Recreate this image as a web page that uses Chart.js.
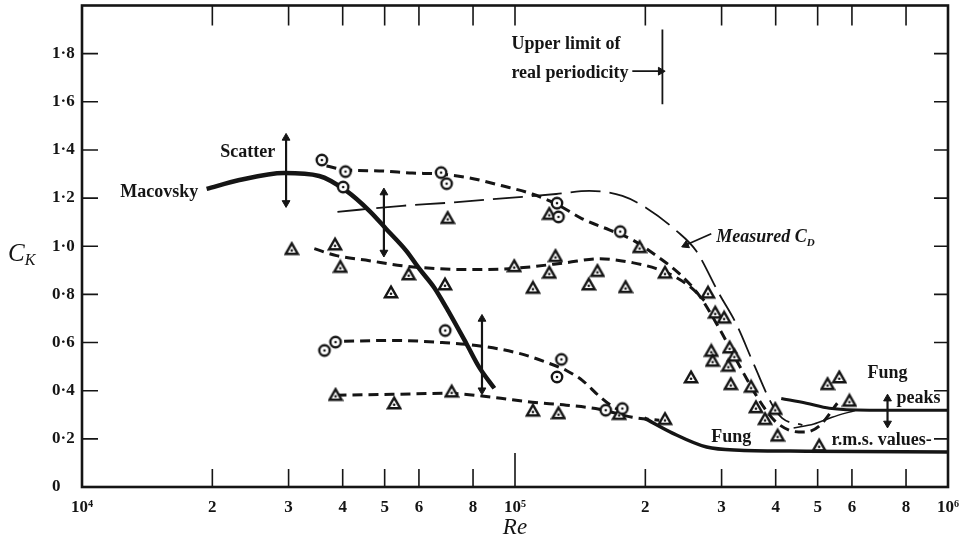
<!DOCTYPE html>
<html>
<head>
<meta charset="utf-8">
<script src="https://cdn.jsdelivr.net/npm/chart.js@4.4.0/dist/chart.umd.min.js"></script>
<style>
  html, body { margin: 0; padding: 0; background: #fff; }
</style>
</head>
<body>
<canvas id="chart" width="966" height="546"></canvas>
<script>
// axis ticks
const reTicks = [1e4, 2e4, 3e4, 4e4, 5e4, 6e4, 8e4, 1e5, 2e5, 3e5, 4e5, 5e5, 6e5, 8e5, 1e6];
const reTickLabels = ['10\u2074', '2', '3', '4', '5', '6', '8', '10\u2075', '2', '3', '4', '5', '6', '8', '10\u2076'];
const ckTicks = [0, 0.2, 0.4, 0.6, 0.8, 1.0, 1.2, 1.4, 1.6, 1.8];
const ckTickLabels = ['0', '0\u00b72', '0\u00b74', '0\u00b76', '0\u00b78', '1\u00b70', '1\u00b72', '1\u00b74', '1\u00b76', '1\u00b78'];

// measured points, circles
const circleRe = [3.58e4, 4.06e4, 4.01e4, 6.75e4, 6.95e4, 1.25e5, 1.26e5, 1.75e5,
                  3.63e4, 3.85e4, 6.9e4, 1.28e5, 1.25e5, 1.62e5, 1.77e5];
const circleCk = [1.358, 1.31, 1.246, 1.306, 1.26, 1.179, 1.122, 1.061,
                  0.567, 0.602, 0.65, 0.53, 0.457, 0.319, 0.326];

// measured points, triangles
const triRe = [3.05e4, 3.84e4, 3.95e4, 5.17e4, 5.68e4, 6.89e4, 6.99e4, 9.96e4, 1.10e5, 1.20e5,
               1.24e5, 1.20e5, 1.48e5, 1.55e5, 1.80e5, 1.94e5, 2.22e5, 2.79e5, 2.90e5, 3.04e5,
               2.84e5, 2.86e5, 3.13e5, 3.21e5, 3.11e5, 2.55e5, 3.15e5, 3.51e5, 3.60e5, 3.78e5,
               3.99e5, 4.04e5, 5.04e5, 5.27e5, 5.61e5, 5.92e5,
               3.85e4, 5.26e4, 7.14e4, 1.10e5, 1.26e5, 1.74e5, 2.22e5];
const triCk = [0.99, 1.009, 0.916, 0.81, 0.885, 0.843, 1.119, 0.919, 0.829, 0.892,
               0.961, 1.136, 0.843, 0.899, 0.832, 0.998, 0.892, 0.809, 0.726, 0.705,
               0.567, 0.526, 0.581, 0.547, 0.505, 0.457, 0.429, 0.418, 0.333, 0.284,
               0.326, 0.215, 0.174, 0.429, 0.457, 0.36,
               0.384, 0.349, 0.398, 0.319, 0.308, 0.305, 0.284];

// fitted curves
const upperCircleRe = [3.67e4, 4.08e4, 4.86e4, 5.79e4, 6.69e4, 7.84e4, 9.35e4, 1.096e5, 1.245e5, 1.43e5,
                       1.651e5, 1.866e5, 2.154e5, 2.396e5, 2.665e5, 2.964e5, 3.296e5, 3.666e5, 3.97e5, 4.3e5,
                       4.66e5, 5.04e5, 5.55e5];
const upperCircleCk = [1.333, 1.317, 1.313, 1.304, 1.300, 1.284, 1.251, 1.217, 1.176, 1.114,
                       1.068, 1.027, 0.952, 0.886, 0.795, 0.658, 0.505, 0.360, 0.277, 0.236,
                       0.228, 0.253, 0.348];

const upperTriRe = [3.44e4, 3.87e4, 4.61e4, 5.49e4, 6.58e4, 7.84e4, 9.7e4, 1.096e5, 1.314e5, 1.566e5,
                    1.866e5, 2.12e5, 2.358e5, 2.568e5, 2.736e5];
const upperTriCk = [0.99, 0.961, 0.940, 0.919, 0.907, 0.903, 0.907, 0.915, 0.932, 0.948,
                    0.932, 0.907, 0.870, 0.824, 0.774];

const lowerCircleRe = [4.03e4, 5.21e4, 6.79e4, 8.14e4, 1.023e5, 1.181e5, 1.314e5, 1.43e5, 1.566e5, 1.678e5, 1.807e5];
const lowerCircleCk = [0.605, 0.609, 0.600, 0.588, 0.555, 0.518, 0.484, 0.443, 0.377, 0.335, 0.306];

const lowerTriRe = [3.87e4, 5.21e4, 6.94e4, 8.86e4, 1.096e5, 1.314e5, 1.566e5, 1.866e5, 2.154e5];
const lowerTriCk = [0.381, 0.385, 0.389, 0.373, 0.352, 0.340, 0.323, 0.290, 0.277];

const macovskyRe = [1.94e4, 2.31e4, 2.93e4, 3.53e4, 4.08e4, 4.61e4, 5.04e4, 5.61e4, 6.01e4, 6.51e4, 6.94e4, 7.72e4, 8.27e4, 8.96e4];
const macovskyCk = [1.238, 1.275, 1.304, 1.292, 1.23, 1.147, 1.072, 0.981, 0.907, 0.828, 0.745, 0.596, 0.497, 0.41];

const cdRe = [3.89e4, 5.49e4, 6.94e4, 9.7e4, 1.245e5, 1.485e5, 1.77e5, 2.01e5, 2.36e5, 2.62e5, 2.96e5, 3.24e5, 3.57e5, 3.93e5, 4.14e5, 4.61e5];
const cdCk = [1.143, 1.168, 1.180, 1.201, 1.217, 1.23, 1.209, 1.159, 1.064, 0.981, 0.803, 0.679, 0.505, 0.34, 0.286, 0.257];

const fungRmsRe = [1.99e5, 2.31e5, 2.77e5, 3.3e5, 4.71e5, 1e6];
const fungRmsCk = [0.286, 0.224, 0.166, 0.153, 0.149, 0.145];

const fungPeakRe = [4.12e5, 4.71e5, 5.32e5, 6.58e5, 1e6];
const fungPeakCk = [0.368, 0.348, 0.327, 0.319, 0.319];

const riseRe = [4.4e5, 4.9e5, 5.4e5, 6.1e5];
const riseCk = [0.245, 0.262, 0.29, 0.318];

// scatter bars: Re, low, high
const scatterRe = [2.96e4, 4.98e4, 8.39e4, 7.25e5];
const scatterLo = [1.18, 0.974, 0.402, 0.264];
const scatterHi = [1.45, 1.223, 0.698, 0.367];

// upper limit of real periodicity
const limitRe = 2.19e5;
const limitCk = [1.59, 1.90];

const INK = '#151515';
const SERIF = '"Liberation Serif", "DejaVu Serif", serif';

function pts(xs, ys) { return xs.map((x, i) => ({ x: x, y: ys[i] })); }

function marker(kind) {
  const c = document.createElement('canvas');
  c.width = 16; c.height = 16;
  const g = c.getContext('2d');
  g.fillStyle = '#fff';
  g.strokeStyle = INK;
  g.lineWidth = 2.4;
  g.beginPath();
  if (kind === 'circle') {
    g.arc(8, 8, 5.2, 0, Math.PI * 2);
  } else {
    g.moveTo(8, 2.6); g.lineTo(14, 13.2); g.lineTo(2, 13.2); g.closePath();
  }
  g.fill(); g.stroke();
  g.fillStyle = INK;
  g.beginPath();
  g.arc(8, kind === 'circle' ? 8 : 9.8, 1.3, 0, Math.PI * 2);
  g.fill();
  return c;
}

function curve(xs, ys, width, dash) {
  return {
    data: pts(xs, ys), showLine: true, pointRadius: 0,
    borderColor: INK, borderWidth: width, borderDash: dash || [],
    cubicInterpolationMode: 'monotone', fill: false
  };
}

function arrow(p0, p1, rot) {
  return {
    data: [p0, p1], showLine: true, borderColor: INK, borderWidth: 1.8,
    pointStyle: 'triangle', pointRadius: [0, 4.5], pointRotation: [0, rot],
    pointBackgroundColor: INK, pointBorderColor: INK, pointBorderWidth: 1
  };
}

const datasets = [
  { data: pts(circleRe, circleCk), pointStyle: marker('circle'), showLine: false },
  { data: pts(triRe, triCk), pointStyle: marker('tri'), showLine: false },
  curve(upperCircleRe, upperCircleCk, 3, [10, 6]),
  curve(upperTriRe, upperTriCk, 3, [10, 6]),
  curve(lowerCircleRe, lowerCircleCk, 3, [10, 6]),
  curve(lowerTriRe, lowerTriCk, 3, [10, 6]),
  curve(macovskyRe, macovskyCk, 4.5),
  curve(cdRe, cdCk, 1.8, [30, 9]),
  curve(fungRmsRe, fungRmsCk, 3.5),
  curve(fungPeakRe, fungPeakCk, 3),
  curve(riseRe, riseCk, 1.5),
  { data: pts([limitRe, limitRe], limitCk), showLine: true, pointRadius: 0, borderColor: INK, borderWidth: 1.8 },
  arrow({ x: 1.866e5, y: 1.727 }, { x: 2.17e5, y: 1.727 }, 90),
  arrow({ x: 2.84e5, y: 1.052 }, { x: 2.48e5, y: 1.005 }, 246)
];
scatterRe.forEach((re, i) => {
  datasets.push({
    data: [{ x: re, y: scatterHi[i] }, { x: re, y: scatterLo[i] }], showLine: true,
    borderColor: INK, borderWidth: 2.2, pointStyle: 'triangle', pointRadius: 4.5,
    pointRotation: [0, 180], pointBackgroundColor: INK, pointBorderColor: INK, pointBorderWidth: 1
  });
});

// text notes: [text, Re, Ck, align]
const notes = [
  ['Scatter', 2.795e4, 1.391, 'right'],
  ['Macovsky', 1.856e4, 1.222, 'right'],
  ['Upper limit of', 9.81e4, 1.838, 'left'],
  ['real periodicity', 9.81e4, 1.718, 'left'],
  ['Fung', 6.52e5, 0.472, 'left'],
  ['peaks', 7.6e5, 0.369, 'left'],
  ['Fung', 2.84e5, 0.207, 'left'],
  ['r.m.s. values-', 5.38e5, 0.195, 'left']
];

function subText(ctx, x, y, main, sub, size, weight) {
  ctx.font = 'italic ' + (weight || '') + ' ' + size + 'px ' + SERIF;
  ctx.textAlign = 'left';
  ctx.fillText(main, x, y);
  const w = ctx.measureText(main).width;
  ctx.font = 'italic ' + (weight || '') + ' ' + Math.round(size * 0.62) + 'px ' + SERIF;
  ctx.fillText(sub, x + w, y + size * 0.28);
}

const framePlugin = {
  id: 'frame',
  afterDatasetsDraw(chart) {
    const { ctx, chartArea: a, scales } = chart;
    const xs = scales.x, ys = scales.y;
    ctx.save();
    ctx.strokeStyle = INK;
    ctx.lineWidth = 2.6;
    ctx.strokeRect(a.left, a.top, a.right - a.left, a.bottom - a.top);
    ctx.lineWidth = 1.6;
    ctx.beginPath();
    reTicks.forEach(v => {
      if (v === 1e4 || v === 1e6) return;
      const px = xs.getPixelForValue(v);
      const len = v === 1e5 ? 34 : 18;
      ctx.moveTo(px, a.bottom); ctx.lineTo(px, a.bottom - len);
      ctx.moveTo(px, a.top); ctx.lineTo(px, a.top + 20);
    });
    ckTicks.forEach(v => {
      if (v === 0) return;
      const py = ys.getPixelForValue(v);
      ctx.moveTo(a.left, py); ctx.lineTo(a.left + 16, py);
      ctx.moveTo(a.right, py); ctx.lineTo(a.right - 14, py);
    });
    ctx.stroke();

    ctx.fillStyle = INK;
    ctx.textBaseline = 'middle';
    notes.forEach(n => {
      ctx.font = 'bold 18px ' + SERIF;
      ctx.textAlign = n[3];
      ctx.fillText(n[0], xs.getPixelForValue(n[1]), ys.getPixelForValue(n[2]));
    });
    // Measured C_D
    const mx = xs.getPixelForValue(2.915e5), my = ys.getPixelForValue(1.035);
    ctx.font = 'italic bold 18px ' + SERIF;
    ctx.textAlign = 'left';
    ctx.fillText('Measured ', mx, my);
    subText(ctx, mx + ctx.measureText('Measured ').width, my, 'C', 'D', 18, 'bold');
    // axis title C_K
    subText(ctx, 8, 254, 'C', 'K', 25);
    ctx.restore();
  }
};

new Chart(document.getElementById('chart'), {
  type: 'scatter',
  data: { datasets: datasets },
  options: {
    responsive: false,
    animation: false,
    layout: { padding: { left: 52, right: 18, top: 5, bottom: 0 } },
    plugins: { legend: { display: false }, tooltip: { enabled: false } },
    scales: {
      x: {
        type: 'logarithmic', min: 1e4, max: 1e6,
        afterBuildTicks: axis => { axis.ticks = reTicks.map(v => ({ value: v })); },
        afterFit: axis => { axis.height = 59; axis.paddingLeft = 0; axis.paddingRight = 0; },
        grid: { display: false, drawTicks: false },
        border: { display: false },
        ticks: {
          autoSkip: false, maxRotation: 0, padding: 10, color: INK,
          font: { family: SERIF, size: 17, weight: 'bold' },
          callback: (v, i) => reTickLabels[i]
        },
        title: {
          display: true, text: 'Re', color: INK,
          font: { family: SERIF, size: 23, style: 'italic' },
          padding: { top: 0, bottom: 4 }
        }
      },
      y: {
        min: 0, max: 2,
        afterBuildTicks: axis => { axis.ticks = ckTicks.map(v => ({ value: v })); },
        afterFit: axis => { axis.width = 30; axis.paddingTop = 0; axis.paddingBottom = 0; },
        grid: { display: false, drawTicks: false },
        border: { display: false },
        ticks: {
          crossAlign: 'far', padding: 4, color: INK,
          font: { family: SERIF, size: 17, weight: 'bold' },
          callback: (v, i) => ckTickLabels[i]
        }
      }
    }
  },
  plugins: [framePlugin]
});
</script>
</body>
</html>
